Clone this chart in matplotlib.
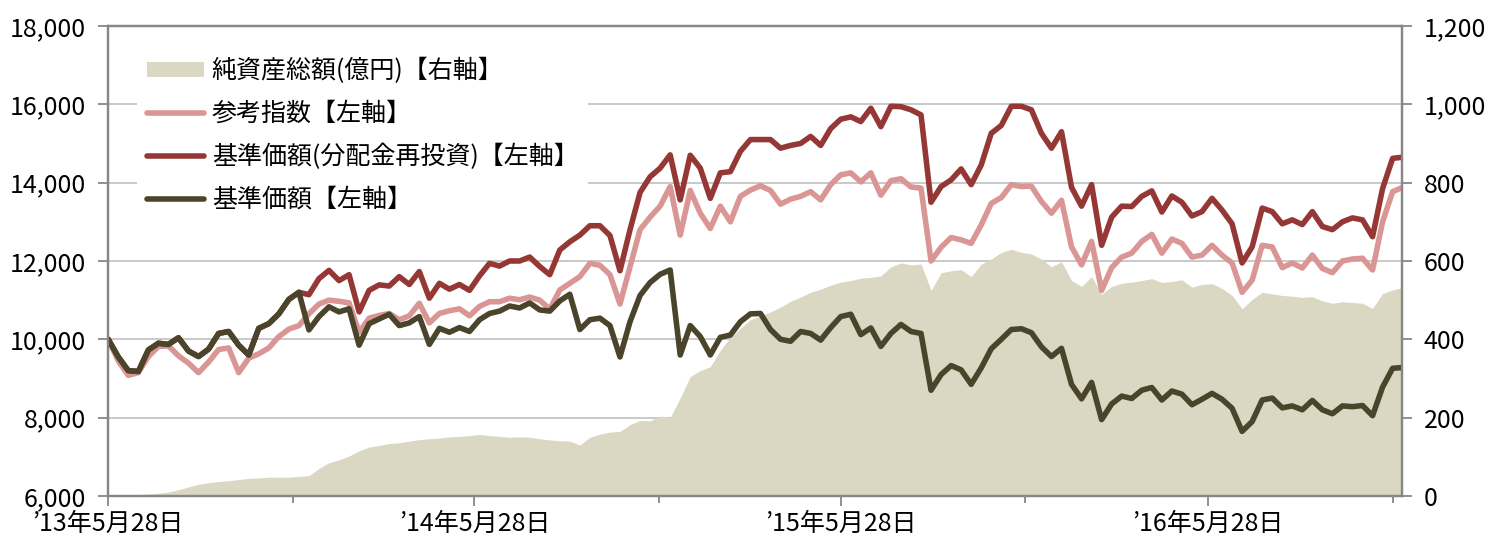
import pandas as pd
import matplotlib
matplotlib.use('Agg')
import matplotlib.pyplot as plt
from matplotlib.patches import Patch
from matplotlib.lines import Line2D
from matplotlib.ticker import FuncFormatter

plt.rcParams['font.family'] = ['Noto Sans CJK JP', 'DejaVu Sans']

# sampled every 10 days from 2013-05-28
dates = pd.date_range('2013-05-28', periods=130, freq='10D')

nav = [10000, 9550, 9200, 9180, 9730, 9900, 9870, 10040, 9700, 9560,
       9750, 10150, 10200, 9850, 9600, 10280, 10400, 10650, 11020, 11200,
       10240, 10580, 10830, 10700, 10780, 9850, 10400, 10520, 10640, 10350,
       10420, 10580, 9870, 10280, 10180, 10300, 10200, 10500, 10660, 10720,
       10850, 10800, 10930, 10750, 10720, 10980, 11150, 10250, 10500, 10540,
       10350, 9550, 10450, 11120, 11450, 11660, 11770, 9600, 10350, 10070,
       9600, 10050, 10110, 10450, 10650, 10660, 10250, 10000, 9950, 10200,
       10150, 9980, 10300, 10580, 10640, 10120, 10290, 9820, 10150, 10380,
       10200, 10150, 8700, 9100, 9330, 9220, 8850, 9270, 9760, 10000,
       10250, 10270, 10170, 9810, 9560, 9770, 8850, 8480, 8900, 7950,
       8350, 8550, 8490, 8700, 8770, 8450, 8680, 8600, 8330, 8470,
       8620, 8470, 8240, 7650, 7900, 8450, 8500, 8250, 8300, 8200,
       8440, 8200, 8100, 8300, 8280, 8310, 8050, 8780, 9260, 9280]

reinvest = [10000, 9550, 9200, 9180, 9730, 9900, 9870, 10040, 9700, 9560,
            9750, 10150, 10200, 9850, 9600, 10280, 10400, 10650, 11020, 11200,
            11140, 11550, 11760, 11500, 11650, 10700, 11250, 11390, 11360, 11600,
            11400, 11730, 11050, 11430, 11280, 11400, 11250, 11620, 11940, 11870,
            12000, 12000, 12100, 11860, 11650, 12280, 12490, 12660, 12900, 12900,
            12650, 11750, 12800, 13750, 14150, 14370, 14710, 13560, 14700, 14370,
            13600, 14250, 14280, 14800, 15100, 15100, 15100, 14880, 14950, 15000,
            15180, 14950, 15380, 15620, 15680, 15560, 15900, 15430, 15950, 15940,
            15860, 15730, 13500, 13900, 14070, 14350, 13950, 14450, 15260, 15460,
            15950, 15950, 15860, 15260, 14880, 15300, 13880, 13400, 13950, 12400,
            13120, 13400, 13390, 13650, 13790, 13250, 13660, 13500, 13150, 13260,
            13600, 13300, 12950, 11950, 12360, 13350, 13260, 12950, 13050, 12930,
            13260, 12880, 12800, 13000, 13100, 13050, 12620, 13850, 14620, 14650]

index_ref = [10000, 9450, 9080, 9150, 9560, 9820, 9830, 9580, 9390, 9150,
             9420, 9740, 9780, 9150, 9520, 9630, 9780, 10070, 10260, 10350,
             10650, 10900, 11000, 10970, 10930, 10180, 10540, 10610, 10660, 10500,
             10600, 10920, 10420, 10660, 10730, 10780, 10600, 10840, 10960, 10960,
             11050, 11010, 11080, 11000, 10770, 11260, 11430, 11600, 11940, 11890,
             11650, 10900, 11850, 12800, 13120, 13400, 13900, 12660, 13800, 13220,
             12830, 13400, 13000, 13650, 13810, 13920, 13800, 13450, 13580, 13650,
             13770, 13560, 13950, 14200, 14250, 14020, 14250, 13680, 14050, 14100,
             13890, 13860, 12000, 12350, 12600, 12540, 12450, 12920, 13470, 13620,
             13950, 13900, 13910, 13520, 13220, 13550, 12360, 11900, 12500, 11250,
             11830, 12100, 12200, 12500, 12680, 12200, 12560, 12450, 12100, 12150,
             12400, 12150, 11950, 11200, 11510, 12400, 12360, 11830, 11950, 11820,
             12150, 11810, 11700, 12000, 12050, 12070, 11770, 13000, 13770, 13880]

net_assets = [2, 3, 3, 4, 5, 7, 10, 16, 23, 30,
              34, 37, 39, 42, 45, 46, 48, 48, 48, 50,
              52, 70, 85, 92, 102, 115, 125, 129, 134, 136,
              140, 144, 146, 148, 151, 152, 154, 157, 154, 152,
              150, 151, 150, 146, 143, 141, 140, 130, 150, 158,
              163, 165, 182, 193, 192, 204, 200, 250, 305, 320,
              330, 372, 405, 428, 450, 460, 470, 482, 497, 508,
              520, 528, 538, 546, 550, 556, 558, 562, 585, 595,
              590, 592, 525, 570, 575, 578, 560, 592, 605, 622,
              630, 622, 618, 605, 585, 598, 550, 535, 560, 515,
              535, 543, 546, 550, 555, 545, 548, 552, 533, 540,
              542, 530, 512, 478, 502, 520, 516, 512, 510, 507,
              509, 498, 492, 496, 494, 492, 479, 517, 526, 532]

labels = ['純資産総額(億円)【右軸】', '参考指数【左軸】',
          '基準価額(分配金再投資)【左軸】', '基準価額【左軸】']
major_ticks = ['2013-05-28', '2014-05-28', '2015-05-28', '2016-05-28']
minor_ticks = ['2013-11-28', '2014-11-28', '2015-11-28', '2016-11-28']
tick_text = ['\u201913年5月28日', '\u201914年5月28日', '\u201915年5月28日', '\u201916年5月28日']

c_area = '#DAD8C2'
c_ref = '#D99694'
c_rein = '#953735'
c_nav = '#4A452A'
c_spine = '#878787'
c_grid = '#C0C0C0'

fig = plt.figure(figsize=(14.87, 5.38), dpi=100)
ax2 = fig.add_axes([0.0728, 0.0781, 0.8698, 0.8736])
ax = ax2.twinx()
ax.set_zorder(ax2.get_zorder() + 1)
ax.patch.set_visible(False)

ax2.fill_between(dates, net_assets, 0, color=c_area, linewidth=0)
ax2.set_ylim(0, 1200)
ax2.set_yticks(range(0, 1201, 200))
ax2.set_axisbelow(True)
ax2.grid(axis='y', color=c_grid, linewidth=1.2)

lw = 4.0
ax.plot(dates, index_ref, color=c_ref, lw=lw, solid_capstyle='round', solid_joinstyle='round')
ax.plot(dates, reinvest, color=c_rein, lw=lw, solid_capstyle='round', solid_joinstyle='round')
ax.plot(dates, nav, color=c_nav, lw=lw, solid_capstyle='round', solid_joinstyle='round')
ax.set_ylim(6000, 18000)
ax.set_yticks(range(6000, 18001, 2000))

ax.yaxis.tick_left()
ax2.yaxis.tick_right()

start = pd.Timestamp('2013-05-28')
ax2.set_xlim(start, start + pd.Timedelta(days=1289))
ax2.set_xticks(pd.to_datetime(major_ticks))
ax2.set_xticklabels(tick_text)
ax2.set_xticks(pd.to_datetime(minor_ticks), minor=True)

fmt = FuncFormatter(lambda v, p: '{:,.0f}'.format(v))
ax.yaxis.set_major_formatter(fmt)
ax2.yaxis.set_major_formatter(fmt)

fs = 18
for a in (ax, ax2):
    for s in a.spines.values():
        s.set_color(c_spine)
        s.set_linewidth(1.6)
ax.tick_params(axis='y', which='major', direction='out', length=7, width=1.3,
               color=c_spine, labelsize=fs, pad=9)
ax2.tick_params(axis='y', which='major', direction='out', length=7, width=1.3,
                color=c_spine, labelsize=fs, pad=9)
ax2.tick_params(axis='x', which='major', direction='inout', length=14, width=1.3,
                color=c_spine, labelsize=fs, pad=4)
ax2.tick_params(axis='x', which='minor', direction='out', length=5, width=1.3,
                color=c_spine)

handles = [Patch(facecolor=c_area, edgecolor='none'),
           Line2D([], [], color=c_ref, lw=lw, solid_capstyle='round'),
           Line2D([], [], color=c_rein, lw=lw, solid_capstyle='round'),
           Line2D([], [], color=c_nav, lw=lw, solid_capstyle='round')]
leg = ax.legend(handles, labels, loc='upper left', bbox_to_anchor=(0.022, 0.953),
                fontsize=fs, frameon=True, fancybox=False, framealpha=1,
                edgecolor='none', facecolor='white', handlelength=2.3,
                handleheight=0.5, handletextpad=0.3, labelspacing=0.67,
                borderpad=0.4, borderaxespad=0)

fig.savefig('out.png', dpi=100)
